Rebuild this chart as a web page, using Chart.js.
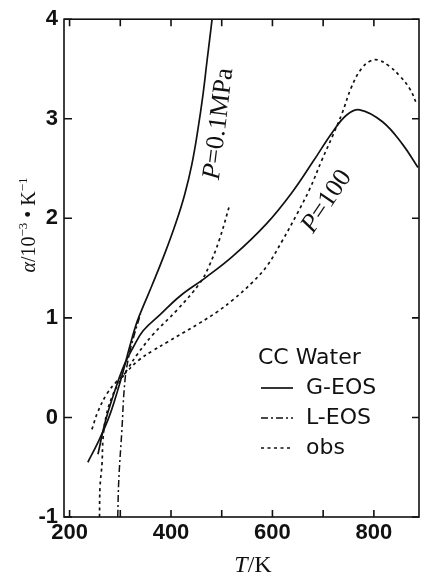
<!DOCTYPE html>
<html>
<head>
<meta charset="utf-8">
<script src="https://cdn.jsdelivr.net/npm/chart.js@4.4.1/dist/chart.umd.min.js"></script>
<style>
  html, body { margin: 0; padding: 0; background: #fff; }
  #wrap { width: 424px; height: 579px; }
</style>
</head>
<body>
<div id="wrap"><canvas id="alphaChart" width="424" height="579"></canvas></div>
<script>
  // axis ticks
  const xTicks = [200, 300, 400, 500, 600, 700, 800];
  const xLabels = [200, 400, 600, 800];
  const yTicks = [-1, 0, 1, 2, 3, 4];

  // G-EOS, P = 0.1 MPa (T / K, alpha / 1e-3 K^-1)
  const gEosLowT = [236, 256, 276, 290, 305, 319, 333, 348, 362, 388, 410, 427, 441, 453, 463, 471, 477, 481];
  const gEosLowA = [-0.45, -0.25, -0.02, 0.19, 0.45, 0.72, 0.96, 1.15, 1.32, 1.65, 1.96, 2.24, 2.54, 2.89, 3.24, 3.58, 3.83, 4.0];

  // G-EOS, P = 100 MPa
  const gEosHighT = [256, 270, 290, 308, 325, 345, 378, 418, 467, 522, 589, 640, 680, 719, 747, 772, 817, 857, 887];
  const gEosHighA = [-0.37, -0.05, 0.28, 0.53, 0.7, 0.87, 1.03, 1.22, 1.4, 1.62, 1.95, 2.27, 2.57, 2.87, 3.04, 3.09, 2.97, 2.74, 2.51];

  // L-EOS, P = 0.1 MPa
  const lEosLowT = [295, 297, 303, 309, 317, 327, 340];
  const lEosLowA = [-1.0, -0.63, -0.14, 0.36, 0.62, 0.82, 1.04];

  // observed, P = 0.1 MPa
  const obsLowT = [259, 260, 264, 266, 272, 284, 299, 315, 333, 364, 412, 457, 475, 495, 516];
  const obsLowA = [-1.0, -0.7, -0.46, -0.21, 0.01, 0.21, 0.36, 0.49, 0.63, 0.83, 1.08, 1.35, 1.52, 1.78, 2.14];

  // observed, P = 100 MPa
  const obsHighT = [244, 256, 274, 291, 313, 335, 364, 394, 424, 457, 491, 522, 561, 589, 620, 648, 674, 697, 718, 737, 756, 775, 793, 808, 830, 851, 871, 885];
  const obsHighA = [-0.12, 0.06, 0.24, 0.35, 0.46, 0.57, 0.67, 0.76, 0.85, 0.95, 1.06, 1.18, 1.36, 1.52, 1.78, 2.04, 2.3, 2.58, 2.82, 3.05, 3.32, 3.5, 3.58, 3.59, 3.53, 3.43, 3.3, 3.14];

  const ink = "#111";
  const styles = {
    gEos: { dash: [], width: 1.7 },
    lEos: { dash: [7, 3, 2, 3], width: 1.5 },
    obs: { dash: [3, 3.5], width: 1.7 },
  };

  const sans = "'Liberation Sans', Arial, sans-serif";
  const serif = "'Liberation Serif', 'Times New Roman', serif";

  function pts(ts, as) {
    return ts.map((t, i) => ({ x: t, y: as[i] }));
  }

  function curve(label, ts, as, style) {
    return {
      label,
      data: pts(ts, as),
      borderColor: ink,
      borderWidth: style.width,
      borderDash: style.dash,
      pointRadius: 0,
      tension: 0.4,
      fill: false,
    };
  }

  function drawRich(ctx, parts, cx, cy, angle) {
    ctx.save();
    ctx.translate(cx, cy);
    ctx.rotate((angle * Math.PI) / 180);
    let total = 0;
    parts.forEach((p) => {
      ctx.font = p.font;
      p.w = ctx.measureText(p.text).width;
      total += p.w;
    });
    let px = -total / 2;
    ctx.textAlign = "left";
    ctx.textBaseline = "alphabetic";
    ctx.fillStyle = ink;
    parts.forEach((p) => {
      ctx.font = p.font;
      ctx.fillText(p.text, px, 7 + (p.dy || 0));
      px += p.w;
    });
    ctx.restore();
  }

  // frame, inward ticks, labels on curves, axis titles, legend
  const figurePlugin = {
    id: "figure",
    afterDraw(chart) {
      const { ctx, chartArea: a } = chart;
      const x = chart.scales.x;
      const y = chart.scales.y;
      ctx.save();
      ctx.strokeStyle = ink;
      ctx.lineWidth = 1.6;
      ctx.setLineDash([]);
      ctx.strokeRect(a.left, a.top, a.right - a.left, a.bottom - a.top);

      ctx.beginPath();
      xTicks.forEach((v) => {
        const px = x.getPixelForValue(v);
        ctx.moveTo(px, a.bottom);
        ctx.lineTo(px, a.bottom - 7);
        ctx.moveTo(px, a.top);
        ctx.lineTo(px, a.top + 7);
      });
      yTicks.forEach((v) => {
        const py = y.getPixelForValue(v);
        ctx.moveTo(a.left, py);
        ctx.lineTo(a.left + 8, py);
        ctx.moveTo(a.right, py);
        ctx.lineTo(a.right - 7, py);
      });
      ctx.stroke();

      const it = "italic 26px " + serif;
      const up = "26px " + serif;
      drawRich(ctx, [{ text: "P", font: it }, { text: "=0.1MPa", font: up }],
        x.getPixelForValue(494), y.getPixelForValue(2.95), -83);
      drawRich(ctx, [{ text: "P", font: it }, { text: "=100", font: up }],
        x.getPixelForValue(707), y.getPixelForValue(2.17), -56);

      // axis titles
      const t20 = "20px " + serif;
      const s13 = "13px " + serif;
      drawRich(ctx, [
        { text: "α", font: "italic 20px " + serif },
        { text: "/10", font: t20 },
        { text: "−3", font: s13, dy: -8 },
        { text: " • K", font: t20 },
        { text: "−1", font: s13, dy: -8 },
      ], 28, 225, -90);
      drawRich(ctx, [
        { text: "T", font: "italic 24px " + serif },
        { text: "/K", font: "24px " + serif },
      ], 253, 565, 0);

      // legend
      ctx.fillStyle = ink;
      ctx.textAlign = "left";
      ctx.textBaseline = "middle";
      ctx.font = "22px 'DejaVu Sans', sans-serif";
      ctx.fillText("CC Water", 258, 358);
      const rows = [
        ["G-EOS", styles.gEos, 388],
        ["L-EOS", styles.lEos, 418],
        ["obs", styles.obs, 448],
      ];
      rows.forEach(([name, st, ry]) => {
        ctx.lineWidth = st.width;
        ctx.setLineDash(st.dash);
        ctx.beginPath();
        ctx.moveTo(261, ry);
        ctx.lineTo(293, ry);
        ctx.stroke();
        ctx.setLineDash([]);
        ctx.fillText(name, 306, ry);
      });
      ctx.restore();
    },
  };

  new Chart(document.getElementById("alphaChart"), {
    type: "line",
    data: {
      datasets: [
        curve("G-EOS 0.1 MPa", gEosLowT, gEosLowA, styles.gEos),
        curve("G-EOS 100 MPa", gEosHighT, gEosHighA, styles.gEos),
        curve("L-EOS 0.1 MPa", lEosLowT, lEosLowA, styles.lEos),
        curve("obs 0.1 MPa", obsLowT, obsLowA, styles.obs),
        curve("obs 100 MPa", obsHighT, obsHighA, styles.obs),
      ],
    },
    options: {
      responsive: false,
      animation: false,
      devicePixelRatio: 1,
      layout: { padding: { top: 13, right: 5, bottom: 0, left: 0 } },
      plugins: {
        legend: { display: false },
        tooltip: { enabled: false },
      },
      scales: {
        x: {
          type: "linear",
          min: 189,
          max: 889,
          afterBuildTicks: (axis) => {
            axis.ticks = xTicks.map((v) => ({ value: v }));
          },
          afterFit: (scale) => {
            scale.height = 62;
          },
          grid: { display: false, drawTicks: false },
          border: { display: false },
          ticks: {
            autoSkip: false,
            maxRotation: 0,
            padding: 3,
            color: ink,
            font: { family: sans, size: 22, weight: "bold" },
            callback: (v) => (xLabels.includes(v) ? String(v) : ""),
          },
        },
        y: {
          min: -1,
          max: 4,
          afterBuildTicks: (axis) => {
            axis.ticks = yTicks.map((v) => ({ value: v }));
          },
          afterFit: (scale) => {
            scale.width = 64;
          },
          grid: { display: false, drawTicks: false },
          border: { display: false },
          ticks: {
            padding: 6,
            color: ink,
            font: { family: sans, size: 22, weight: "bold" },
          },
        },
      },
    },
    plugins: [figurePlugin],
  });
</script>
</body>
</html>
